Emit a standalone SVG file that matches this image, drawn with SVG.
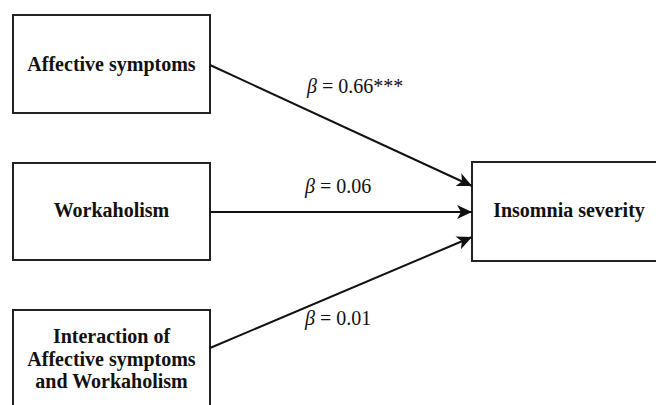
<svg xmlns="http://www.w3.org/2000/svg" width="656" height="405" viewBox="0 0 656 405">
<style>
.box{fill:#fff;stroke:#222;stroke-width:2}
.nt{font-family:"Liberation Serif","Times New Roman","DejaVu Serif",serif;font-weight:bold;font-size:20px;fill:#111;text-anchor:middle}
.lbl{font-family:"Liberation Serif","Times New Roman","DejaVu Serif",serif;font-size:20px;fill:#111}
.edge{stroke:#111;stroke-width:2;fill:none;marker-end:url(#arr)}
</style>
<defs>
<marker id="arr" markerUnits="userSpaceOnUse" markerWidth="16" markerHeight="14" refX="15" refY="7" orient="auto">
<path d="M0,0 L15,7 L0,14 L4,7 Z" fill="#111"/>
</marker>
</defs>
<rect width="656" height="405" fill="#fff"/>
<g id="affective">
<rect class="box" x="13" y="15" width="197" height="98"/>
<text class="nt" x="111.5" y="71">Affective symptoms</text>
</g>
<g id="workaholism">
<rect class="box" x="13" y="163" width="197" height="97"/>
<text class="nt" x="111.5" y="217">Workaholism</text>
</g>
<g id="interaction">
<rect class="box" x="13" y="310" width="197" height="110"/>
<text class="nt" x="111.5" y="343">Interaction of</text>
<text class="nt" x="111.5" y="365.5">Affective symptoms</text>
<text class="nt" x="111.5" y="388">and Workaholism</text>
</g>
<g id="insomnia">
<rect class="box" x="472" y="162" width="195" height="99"/>
<text class="nt" x="569" y="217">Insomnia severity</text>
</g>
<g id="connectors">
<line class="edge" x1="210" y1="65" x2="472" y2="186"/>
<line class="edge" x1="210" y1="212" x2="472" y2="212"/>
<line class="edge" x1="210" y1="348" x2="472" y2="237"/>
</g>
<g id="labels">
<text class="lbl" x="307" y="93"><tspan font-style="italic">β</tspan> = 0.66***</text>
<text class="lbl" x="305" y="193"><tspan font-style="italic">β</tspan> = 0.06</text>
<text class="lbl" x="305" y="325"><tspan font-style="italic">β</tspan> = 0.01</text>
</g>
</svg>
